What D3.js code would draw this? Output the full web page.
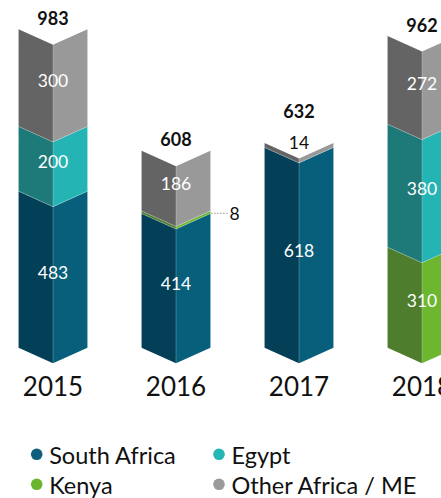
<!DOCTYPE html>
<html><head><meta charset="utf-8">
<script src="https://cdn.jsdelivr.net/npm/d3@7"></script>
<style>
html,body{margin:0;padding:0;background:#fff;}
svg{display:block;}
text{font-family:Lato,"Open Sans",sans-serif;}
</style></head>
<body>
<script>
const years = ["2015", "2016", "2017", "2018"];
const seriesNames = ["South Africa", "Kenya", "Egypt", "Other Africa / ME"];
const southAfrica = [483, 414, 618, 0];
const kenya = [0, 8, 0, 310];
const egypt = [200, 0, 0, 380];
const other = [300, 186, 14, 272];
const totals = [983, 608, 632, 962];
const seriesValues = [southAfrica, kenya, egypt, other];

const leftColors = ["#033f57", "#4e7e2d", "#1d7a78", "#646464"];
const rightColors = ["#075f7b", "#6cb630", "#25b4b4", "#999999"];
const legendColors = {"South Africa":"#0b5f7c","Egypt":"#25b5b5","Kenya":"#6ab42f","Other Africa / ME":"#9b9b9b"};
const legendOrder = ["South Africa", "Egypt", "Kenya", "Other Africa / ME"];

const W = 441, H = 498;
const svg = d3.select("body").append("svg").attr("width", W).attr("height", H);

const x = d3.scaleBand().domain(years).range([-8.5, 483.5]).paddingInner(0.44).paddingOuter(0.22);
const y = d3.scaleLinear().domain([0, 1000]).range([347.7, 23.7]);
const dip = 15.5;

const bars = svg.append("g");
years.forEach((yr, i) => {
  const xl = x(yr), bw = x.bandwidth(), xc = xl + bw / 2, xr = xl + bw;
  let cum = 0;
  const g = bars.append("g");
  seriesValues.forEach((vals, s) => {
    const v = vals[i];
    if (!v) return;
    const b = y(cum), t = y(cum + v);
    cum += v;
    g.append("path")
      .attr("d", `M${xl},${t}L${xc},${t + dip}L${xc},${b + dip}L${xl},${b}Z`)
      .attr("fill", leftColors[s]);
    g.append("path")
      .attr("d", `M${xc},${t + dip}L${xr},${t}L${xr},${b}L${xc},${b + dip}Z`)
      .attr("fill", rightColors[s]);
    if (cum - v > 0) {
      g.append("path")
        .attr("d", `M${xl},${b}L${xc},${b + dip}L${xr},${b}`)
        .attr("fill", "none").attr("stroke", "rgba(255,255,255,0.35)").attr("stroke-width", 0.7);
    }
    if (v >= 40) {
      g.append("text").attr("x", xc).attr("y", (t + b) / 2 + 3)
        .attr("text-anchor", "middle").attr("dominant-baseline", "central")
        .attr("fill", "#fff").attr("font-size", 17.5).text(v);
    } else if (s === seriesValues.length - 1) {
      g.append("text").attr("x", xc).attr("y", t + 6.5)
        .attr("text-anchor", "middle")
        .attr("fill", "#111").attr("font-size", 17.5).text(v);
    } else {
      const my = (t + b) / 2;
      g.append("line").attr("x1", xr + 1).attr("x2", xr + 17).attr("y1", my + 1).attr("y2", my + 1)
        .attr("stroke", "#333").attr("stroke-width", 0.8).attr("stroke-dasharray", "1,2");
      g.append("text").attr("x", xr + 19).attr("y", my + 8)
        .attr("fill", "#111").attr("font-size", 17.5).text(v);
    }
  });
  g.append("line").attr("x1", xc).attr("x2", xc).attr("y1", y(totals[i]) + dip).attr("y2", y(0) + dip)
    .attr("stroke", "rgba(255,255,255,0.3)").attr("stroke-width", 0.8);
  const topVal = other[i];
  const offset = topVal > 0 && topVal < 40 ? 24.6 : 4.5;
  g.append("text").attr("x", xc).attr("y", y(totals[i]) - offset)
    .attr("text-anchor", "middle").attr("font-weight", "bold")
    .attr("fill", "#111").attr("font-size", 18).text(totals[i]);
  g.append("text").attr("x", xc).attr("y", 395.7)
    .attr("text-anchor", "middle").attr("fill", "#111").attr("font-size", 26).text(yr);
});

const lg = svg.append("g");
legendOrder.forEach((name, k) => {
  const col = k % 2, row = Math.floor(k / 2);
  const lx = col === 0 ? 36.7 : 219, ly = 454.3 + row * 30;
  lg.append("circle").attr("cx", lx).attr("cy", ly).attr("r", 5.8).attr("fill", legendColors[name]);
  lg.append("text").attr("x", lx + 12.5).attr("y", ly + 10)
    .attr("fill", "#111").attr("font-size", 23.5).text(name);
});
</script>
</body></html>
